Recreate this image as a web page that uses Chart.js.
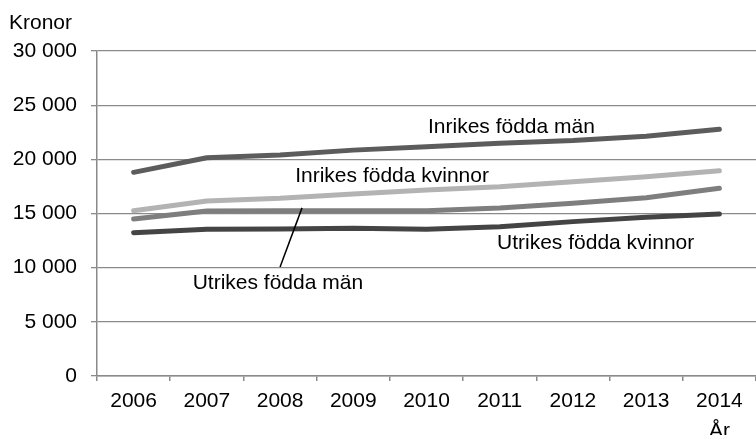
<!DOCTYPE html>
<html>
<head>
<meta charset="utf-8">
<script src="https://cdn.jsdelivr.net/npm/chart.js@4/dist/chart.umd.min.js"></script>
<style>
  html, body { margin: 0; padding: 0; background: #fff; }
</style>
</head>
<body>
<canvas id="chart" width="756" height="435"></canvas>
<script>
const years = ['2006', '2007', '2008', '2009', '2010', '2011', '2012', '2013', '2014'];
const inrikesMan = [18800, 20150, 20400, 20850, 21170, 21480, 21730, 22130, 22770];
const inrikesKvinnor = [15260, 16160, 16400, 16800, 17170, 17480, 17940, 18400, 18950];
const utrikesMan = [14490, 15230, 15260, 15250, 15250, 15500, 15950, 16450, 17330];
const utrikesKvinnor = [13230, 13540, 13570, 13630, 13540, 13780, 14250, 14650, 14960];

// text labels placed in data units: [text, category index, value]
const seriesLabels = [
    ['Inrikes födda män', 5.16, 22990],
    ['Inrikes födda kvinnor', 3.53, 18460],
    ['Utrikes födda kvinnor', 6.31, 12250],
    ['Utrikes födda män', 1.97, 8560]
];
// leader from "Utrikes födda män" to its line
const leader = [[2.0, 10070], [2.3, 15520]];

const FONT = '"Liberation Sans", Arial, sans-serif';
const SIZE = 21;

const fmt = function (v) {
    return String(v).replace(/\B(?=(\d{3})+(?!\d))/g, ' ');
};

const labelPlugin = {
    id: 'labels',
    afterDraw(chart) {
        const ctx = chart.ctx;
        const x = chart.scales.x;
        const y = chart.scales.y;
        ctx.save();
        ctx.fillStyle = '#000';
        ctx.font = SIZE + 'px ' + FONT;
        ctx.textAlign = 'center';
        ctx.textBaseline = 'middle';
        seriesLabels.forEach(function (l) {
            ctx.fillText(l[0], x.getPixelForValue(l[1]), y.getPixelForValue(l[2]));
        });
        ctx.strokeStyle = '#000';
        ctx.lineWidth = 1.5;
        ctx.beginPath();
        ctx.moveTo(x.getPixelForValue(leader[0][0]), y.getPixelForValue(leader[0][1]));
        ctx.lineTo(x.getPixelForValue(leader[1][0]), y.getPixelForValue(leader[1][1]));
        ctx.stroke();
        // axis titles
        ctx.textAlign = 'left';
        ctx.fillText('Kronor', 9, chart.chartArea.top - 28);
        ctx.textAlign = 'center';
        ctx.fillText('År', x.getPixelForValue(years.length - 1), chart.chartArea.bottom + 55);
        ctx.restore();
    }
};

function makeSet(label, data, color) {
    return {
        label: label,
        data: data,
        borderColor: color,
        backgroundColor: color,
        borderWidth: 5,
        borderCapStyle: 'round',
        borderJoinStyle: 'round',
        pointRadius: 0,
        tension: 0,
        fill: false
    };
}

new Chart(document.getElementById('chart'), {
    type: 'line',
    data: {
        labels: years,
        datasets: [
            makeSet('Inrikes födda män', inrikesMan, '#5c5c5c'),
            makeSet('Inrikes födda kvinnor', inrikesKvinnor, '#b3b3b3'),
            makeSet('Utrikes födda män', utrikesMan, '#7e7e7e'),
            makeSet('Utrikes födda kvinnor', utrikesKvinnor, '#444444')
        ]
    },
    options: {
        responsive: false,
        animation: false,
        devicePixelRatio: 1,
        layout: { padding: { top: 51, left: 0, right: 0, bottom: 0 } },
        plugins: {
            legend: { display: false },
            tooltip: { enabled: false }
        },
        scales: {
            x: {
                offset: true,
                grid: {
                    offset: true,
                    drawOnChartArea: false,
                    drawTicks: true,
                    tickLength: 5,
                    color: '#8a8a8a',
                    lineWidth: 1.5
                },
                border: { color: '#8a8a8a', width: 1.5 },
                ticks: {
                    color: '#000',
                    font: { family: FONT, size: SIZE },
                    padding: 8,
                    maxRotation: 0,
                    autoSkip: false
                },
                afterFit(scale) { scale.height = 59; }
            },
            y: {
                min: 0,
                max: 30000,
                grid: {
                    color: '#8a8a8a',
                    lineWidth: 1.3,
                    tickLength: 6
                },
                border: { color: '#8a8a8a', width: 1.5 },
                ticks: {
                    stepSize: 5000,
                    color: '#000',
                    font: { family: FONT, size: SIZE },
                    padding: 14,
                    callback: function (v) { return fmt(v); }
                },
                afterFit(scale) { scale.width = 97; }
            }
        }
    },
    plugins: [labelPlugin]
});
</script>
</body>
</html>
